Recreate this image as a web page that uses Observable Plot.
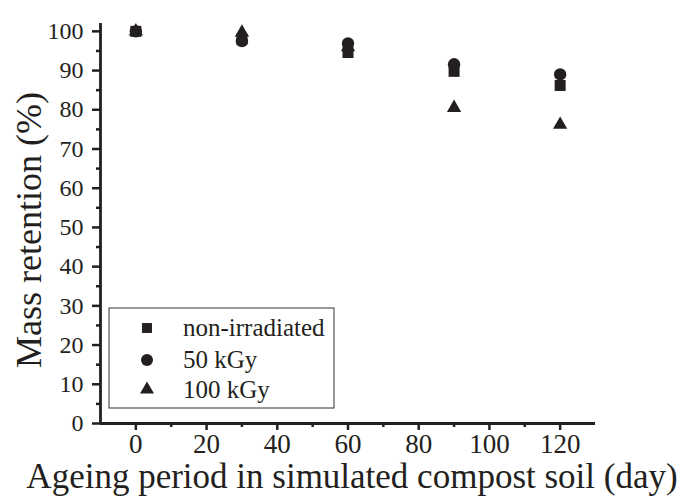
<!DOCTYPE html>
<html>
<head>
<meta charset="utf-8">
<script src="https://cdn.jsdelivr.net/npm/d3@7"></script>
<script src="https://cdn.jsdelivr.net/npm/@observablehq/plot@0.6"></script>
<style>
  html, body { margin: 0; padding: 0; background: #fff; }
  svg { display: block; }
</style>
</head>
<body>
<div id="chart"></div>
<script>
// ---- data ----
const days = [0, 30, 60, 90, 120];
const seriesNames = ["non-irradiated", "50 kGy", "100 kGy"];
const nonIrradiated = [100, 98.0, 94.6, 89.8, 86.2];
const kGy50 = [100, 97.5, 96.9, 91.6, 89.0];
const kGy100 = [100, 99.7, 96.0, 80.5, 76.2];
const xMajorTicks = [0, 20, 40, 60, 80, 100, 120];
const xMinorTicks = [10, 30, 50, 70, 90, 110];
const yMajorTicks = [0, 10, 20, 30, 40, 50, 60, 70, 80, 90, 100];
const yMinorTicks = [5, 15, 25, 35, 45, 55, 65, 75, 85, 95];
const xTitle = "Ageing period in simulated compost soil (day)";
const yTitle = "Mass retention (%)";

const ink = "#231f20";
const serif = "Liberation Serif, Tinos, Times New Roman, DejaVu Serif, serif";
const symbols = ["square", "circle", "triangle"];
const radii = [6.2, 6.2, 5.3];
const valuesBySeries = [nonIrradiated, kGy50, kGy100];

const rows = [];
seriesNames.forEach((s, i) => {
  days.forEach((d, j) => rows.push({series: s, day: d, value: valuesBySeries[i][j]}));
});

const dotMarks = seriesNames.map((s, i) =>
  Plot.dot(rows.filter(r => r.series === s), {
    x: "day", y: "value", symbol: () => symbols[i], r: radii[i], fill: ink, stroke: "none"
  })
);

const svg = Plot.plot({
  width: 683,
  height: 499,
  marginLeft: 100,
  marginRight: 88,
  marginTop: 23,
  marginBottom: 76,
  style: {color: ink, background: "#fff"},
  symbol: {type: "identity"},
  x: {domain: [-10, 130]},
  y: {domain: [0, 102]},
  marks: [
    Plot.axisX({ticks: xMajorTicks, tickSize: 7, tickPadding: 3, fontSize: 27, strokeWidth: 2.5, label: null, tickFormat: d => d}),
    Plot.axisX({ticks: xMinorTicks, tickSize: 4, strokeWidth: 2.5, text: null, label: null}),
    Plot.axisY({ticks: yMajorTicks, tickSize: 8, tickPadding: 9, fontSize: 24, strokeWidth: 2.5, label: null, tickFormat: d => d}),
    Plot.axisY({ticks: yMinorTicks, tickSize: 4, strokeWidth: 2.5, text: null, label: null}),
    Plot.ruleX([-10], {stroke: ink, strokeWidth: 2.8}),
    Plot.ruleY([0], {stroke: ink, strokeWidth: 2.8}),
    ...dotMarks
  ]
});

const root = d3.select(svg);
root.attr("font-family", serif);
root.selectAll("text").attr("font-family", serif).style("font-family", serif);
root.selectAll("g").attr("font-family", serif);

// axis titles
root.append("text")
  .attr("x", 352).attr("y", 488)
  .attr("text-anchor", "middle")
  .style("font-family", serif)
  .attr("font-size", 35)
  .attr("fill", ink)
  .text(xTitle);

root.append("text")
  .attr("transform", "translate(41,230) rotate(-90)")
  .attr("text-anchor", "middle")
  .style("font-family", serif)
  .attr("font-size", 36)
  .attr("fill", ink)
  .text(yTitle);

// legend
const lg = root.append("g");
lg.append("rect")
  .attr("x", 109).attr("y", 308).attr("width", 225).attr("height", 100)
  .attr("fill", "#fff").attr("stroke", "#333").attr("stroke-width", 1);
const d3types = [d3.symbolSquare, d3.symbolCircle, d3.symbolTriangle];
const legendR = [5.6, 6.0, 5.2];
const rowY = [328, 360, 389.5];
seriesNames.forEach((s, i) => {
  lg.append("path")
    .attr("transform", `translate(147,${rowY[i]})`)
    .attr("d", d3.symbol(d3types[i], Math.PI * legendR[i] * legendR[i])())
    .attr("fill", ink);
  lg.append("text")
    .attr("x", 183).attr("y", rowY[i])
    .attr("dy", "0.32em")
    .attr("text-anchor", "start")
    .style("font-family", serif)
    .attr("font-size", 25)
    .attr("fill", ink)
    .text(s);
});

document.getElementById("chart").appendChild(svg);
</script>
</body>
</html>
